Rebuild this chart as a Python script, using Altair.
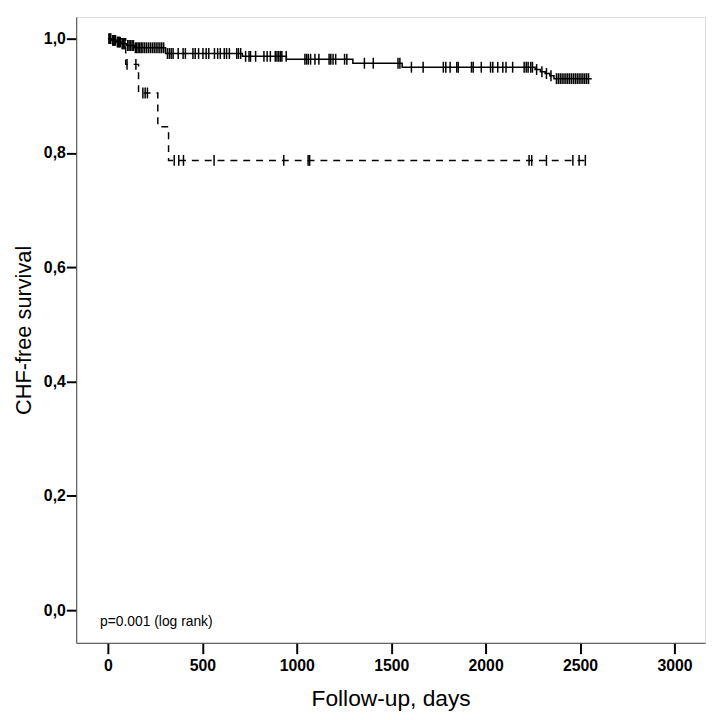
import altair as alt
import pandas as pd

# ---- Data (Kaplan-Meier style) ----
# Group A (solid line): step times (days) and survival after each step
solid_days = [0, 20, 45, 70, 100, 140, 305, 712, 945, 1297, 1558, 2262, 2290, 2315, 2340, 2362, 2562]
solid_surv = [1.0, 0.997, 0.994, 0.991, 0.988, 0.984, 0.974, 0.969, 0.964, 0.957, 0.950, 0.946, 0.942, 0.939, 0.935, 0.930, 0.930]
solid_censor_days = [
    5, 10, 15, 25, 30, 35, 40, 50, 55, 60, 65, 75, 80, 85, 90, 105, 112, 120, 128, 135,
    145, 152, 160, 168, 176, 185, 195, 205, 215, 225, 235, 245, 255, 265, 275, 285, 295,
    315, 325, 335, 345, 372, 398, 410, 450, 462, 480, 503, 520, 534, 564, 581, 595, 616,
    628, 643, 682, 691, 703, 729, 747, 755, 782, 826, 843, 860, 886, 895, 904, 913, 921,
    944, 1043, 1052, 1061, 1073, 1096, 1117, 1171, 1180, 1192, 1206, 1253, 1265, 1358,
    1405, 1536, 1546, 1607, 1669, 1776, 1789, 1812, 1847, 1855, 1925, 1934, 1977, 2026,
    2038, 2064, 2091, 2108, 2143, 2204, 2215, 2225, 2239, 2248, 2270, 2298, 2322, 2346,
    2375, 2385, 2395, 2405, 2415, 2425, 2435, 2445, 2455, 2465, 2475, 2485, 2495, 2505,
    2515, 2525, 2535, 2545,
]

# Group B (dashed line)
dashed_days = [0, 94, 162, 264, 321, 2550]
dashed_surv = [1.0, 0.955, 0.905, 0.846, 0.787, 0.787]
dashed_censor_days = [101, 148, 185, 197, 209, 351, 375, 400, 562, 931, 1060, 1068,
                      2230, 2244, 2322, 2462, 2495, 2528]

x_ticks = [0, 500, 1000, 1500, 2000, 2500, 3000]
y_ticks = [0.0, 0.2, 0.4, 0.6, 0.8, 1.0]
annotation = ["p=0.001 (log rank)"]
annotation_pos = [-42, -0.020]


def surv_at(t, days, surv):
    v = surv[0]
    for d, s in zip(days, surv):
        if d <= t:
            v = s
    return v


solid_df = pd.DataFrame({"day": solid_days, "surv": solid_surv, "group": "A"})
dashed_df = pd.DataFrame({"day": dashed_days, "surv": dashed_surv, "group": "B"})
solid_c = pd.DataFrame({"day": solid_censor_days,
                        "surv": [surv_at(t, solid_days, solid_surv) for t in solid_censor_days]})
dashed_c = pd.DataFrame({"day": dashed_censor_days,
                         "surv": [surv_at(t, dashed_days, dashed_surv) for t in dashed_censor_days]})
text_df = pd.DataFrame({"day": [annotation_pos[0]], "surv": [annotation_pos[1]], "label": annotation})

FONT = "Liberation Sans"

x_enc = alt.X("day:Q",
              scale=alt.Scale(domain=[-168, 3162], nice=False, zero=False),
              axis=alt.Axis(values=x_ticks, title="Follow-up, days", grid=False, format="d",
                            labelFont=FONT, labelFontWeight="bold", labelFontSize=16,
                            labelColor="black", labelPadding=4,
                            tickSize=11, tickWidth=2, tickColor="black",
                            domainColor="#444444", domainWidth=1,
                            titleFont=FONT, titleFontSize=23, titleFontWeight="normal",
                            titleColor="black", titlePadding=14))
y_enc = alt.Y("surv:Q",
              scale=alt.Scale(domain=[-0.057, 1.038], nice=False, zero=False),
              axis=alt.Axis(values=y_ticks, title="CHF-free survival", grid=False,
                            labelExpr="replace(format(datum.value, '.1f'), '.', ',')",
                            labelFont=FONT, labelFontWeight="bold", labelFontSize=16,
                            labelColor="black", labelPadding=1,
                            tickSize=10, tickWidth=2, tickColor="black",
                            domainColor="#444444", domainWidth=1,
                            titleFont=FONT, titleFontSize=22, titleFontWeight="normal",
                            titleColor="black", titlePadding=8))

solid_line = alt.Chart(solid_df).mark_line(interpolate="step-after", color="black",
                                           strokeWidth=1.5).encode(x=x_enc, y=y_enc)
dashed_line = alt.Chart(dashed_df).mark_line(interpolate="step-after", color="black",
                                             strokeWidth=1.5, strokeDash=[7, 6]).encode(x=x_enc, y=y_enc)
solid_ticks = alt.Chart(solid_c).mark_tick(orient="vertical", size=11, thickness=1.5,
                                           color="black", opacity=1).encode(x=x_enc, y=y_enc)
dashed_ticks = alt.Chart(dashed_c).mark_tick(orient="vertical", size=11, thickness=1.5,
                                             color="black", opacity=1).encode(x=x_enc, y=y_enc)
text = alt.Chart(text_df).mark_text(align="left", baseline="middle", font=FONT,
                                    fontSize=14, color="black").encode(
    x=x_enc, y=y_enc, text="label:N")

chart = alt.layer(solid_line, dashed_line, solid_ticks, dashed_ticks, text).properties(
    width=636, height=633,
    autosize=alt.AutoSizeParams(type="none"),
    padding={"left": 69, "top": 5, "right": 6, "bottom": 70},
).configure_view(stroke=None).configure(background="white")

chart.save("out.html", embed_options={"renderer": "svg", "actions": False})
